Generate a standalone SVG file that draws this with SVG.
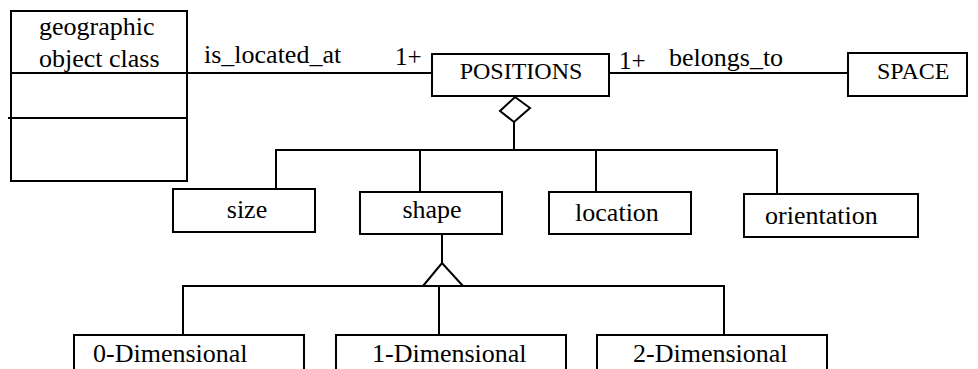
<svg xmlns="http://www.w3.org/2000/svg" width="978" height="369" viewBox="0 0 978 369" font-family="Liberation Serif, Times New Roman, serif" font-size="26">
<style>
.b{fill:#fff;stroke:#000;stroke-width:2}
.l{fill:none;stroke:#000;stroke-width:2}
.c{font-size:24px}
.m{font-size:25px}
</style>
<rect width="978" height="369" fill="#fff"/>
<g id="connectors">
<line class="l" x1="187" y1="73" x2="432" y2="73"/>
<line class="l" x1="609" y1="73" x2="848" y2="73"/>
<polyline class="l" points="514,122 514,150"/>
<polyline class="l" points="276,189 276,150 777,150 777,194"/>
<line class="l" x1="420" y1="150" x2="420" y2="192"/>
<line class="l" x1="596" y1="150" x2="596" y2="192"/>
<polygon class="b" points="515,97 530,108 514,122 500,111"/>
<line class="l" x1="442" y1="234" x2="442" y2="263"/>
<polyline class="l" points="183,335 183,286 724,286 724,335"/>
<line class="l" x1="439" y1="286" x2="439" y2="335"/>
<polyline class="l" points="423,286 442,263 463,286"/>
<text x="204" y="63">is_located_at</text>
<text class="m" x="395" y="65">1+</text>
<text class="m" x="619" y="69">1+</text>
<text x="669" y="66">belongs_to</text>
</g>
<g id="geographic-object-class">
<rect class="b" x="11" y="11" width="176" height="170"/>
<line class="l" x1="11" y1="73" x2="187" y2="73"/>
<line class="l" x1="8" y1="118" x2="187" y2="118"/>
<text x="39" y="35">geographic</text>
<text x="39" y="67">object class</text>
</g>
<g id="positions">
<rect class="b" x="432" y="54" width="177" height="42"/>
<text class="c" x="521" y="79" text-anchor="middle">POSITIONS</text>
</g>
<g id="space">
<rect class="b" x="848" y="53" width="119" height="43"/>
<text class="c" x="877" y="79">SPACE</text>
</g>
<g id="size">
<rect class="b" x="173" y="189" width="142" height="43"/>
<text x="247" y="218" text-anchor="middle">size</text>
</g>
<g id="shape">
<rect class="b" x="360" y="192" width="142" height="42"/>
<text x="432" y="218" text-anchor="middle">shape</text>
</g>
<g id="location">
<rect class="b" x="549" y="192" width="142" height="42"/>
<text x="617" y="221" text-anchor="middle">location</text>
</g>
<g id="orientation">
<rect class="b" x="744" y="194" width="174" height="43"/>
<text x="765" y="224">orientation</text>
</g>
<g id="zero-dimensional">
<rect class="b" x="74" y="335" width="230" height="40"/>
<text x="93" y="362">0-Dimensional</text>
</g>
<g id="one-dimensional">
<rect class="b" x="336" y="335" width="230" height="40"/>
<text x="372" y="362">1-Dimensional</text>
</g>
<g id="two-dimensional">
<rect class="b" x="597" y="335" width="230" height="40"/>
<text x="633" y="362">2-Dimensional</text>
</g>
</svg>
